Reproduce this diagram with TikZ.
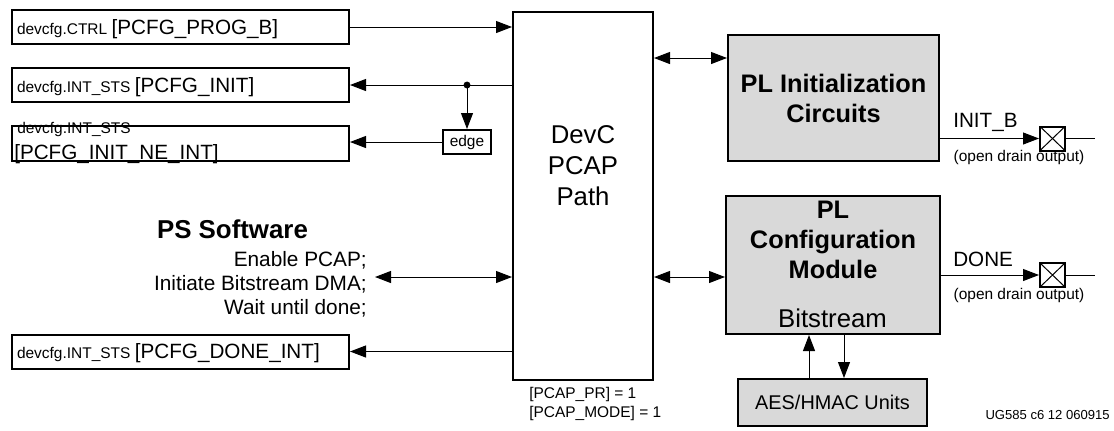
\documentclass[tikz,border=0pt]{standalone}
\usepackage{fontspec}
\setmainfont{Liberation Sans}
\usetikzlibrary{arrows.meta,calc}

\newcommand{\smallfnt}{\fontsize{11.6}{14.25}\selectfont}
\newcommand{\midfnt}{\fontsize{15.5}{18}\selectfont}
\newcommand{\bigfnt}{\fontsize{19.3}{23.25}\selectfont}
\newcommand{\boldfnt}{\fontsize{19}{22.5}\selectfont\bfseries}

\begin{document}
\begin{tikzpicture}[x=0.75pt,y=-0.75pt,
  regbox/.style={draw,line width=1.5pt,minimum width=252.75pt,minimum height=25.5pt,
    text width=245.25pt,inner xsep=3.75pt,align=left,text depth=0pt},
  blk/.style={draw,line width=1.5pt,fill=gray!30},
  wire/.style={line width=0.75pt},
  arr/.style={wire,-{Triangle[length=12pt,width=9pt]}},
  darr/.style={wire,{Triangle[length=12pt,width=9pt]}-{Triangle[length=12pt,width=9pt]}},
  padbox/.style={draw,line width=1.5pt,minimum width=18.75pt,minimum height=18pt,inner sep=0pt,
    path picture={\draw[wire] (path picture bounding box.north west) -- (path picture bounding box.south east)
      (path picture bounding box.south west) -- (path picture bounding box.north east);}}]
  \useasboundingbox (0,0) rectangle (1114,430);

  \node[regbox] (progb) at (180.5,27) {\smallfnt devcfg.CTRL \midfnt [PCFG\_PROG\_B]};
  \node[regbox] (initsts) at (180.5,85) {\smallfnt devcfg.INT\_STS \midfnt [PCFG\_INIT]};
  \node[anchor=base west,inner sep=0pt] (neinttop) at (17,133) {\smallfnt devcfg.INT\_STS};
  \node[anchor=base west,inner sep=0pt] (neintbot) at (14,159) {\midfnt [PCFG\_INIT\_NE\_INT]};
  \node[regbox,minimum height=26.25pt] (neint) at (180.5,143.5) {};
  \node[regbox] (doneint) at (180.5,351.5) {\smallfnt devcfg.INT\_STS \midfnt [PCFG\_DONE\_INT]};

  \node[draw,line width=1.5pt,minimum width=105pt,minimum height=276pt] (devc) at (583,196) {};
  \node[align=center,font=\bigfnt] (devclbl) at (583,166) {DevC\\PCAP\\Path};
  \node[anchor=north west,align=left,inner sep=0pt,font=\smallfnt] (pcapbits) at (529,387) {[PCAP\_PR] = 1\\{[}PCAP\_MODE] = 1};

  \node[draw,line width=1.5pt,minimum width=36pt,minimum height=18pt,inner sep=0pt] (edge) at (467,142) {\smallfnt edge};

  \node[anchor=base] (pssw) at (232.5,238) {\fontsize{19.4}{23}\selectfont\bfseries PS Software};
  \node[anchor=north east,align=right,inner sep=0pt,font=\fontsize{15.6}{18}\selectfont] (swtxt) at (367,251) {Enable PCAP;\\Initiate Bitstream DMA;\\Wait until done;};
  \coordinate (swend) at (375,277);

  \node[blk,minimum width=158.25pt,minimum height=94.5pt,align=center,font=\boldfnt] (plinit) at (833.5,98) {PL Initialization\\Circuits};
  \node[blk,minimum width=160.5pt,minimum height=103.5pt] (plcfg) at (833,265) {};
  \node[align=center,font=\boldfnt] (plcfglbl) at (833,240) {PL\\Configuration\\Module};
  \node[anchor=base] (bitlbl) at (832.5,327) {\bigfnt Bitstream};
  \node[blk,minimum width=141.75pt,minimum height=35.25pt] (aes) at (832.5,402.5) {\fontsize{14.9}{18}\selectfont AES/HMAC Units};

  \node[padbox] (initpad) at (1052.5,138.5) {};
  \node[padbox] (donepad) at (1052.5,275) {};
  \coordinate (initout) at (1095,138.5);
  \coordinate (doneout) at (1095,275);
  \node[anchor=base west,inner sep=0pt] (initblbl) at (953,127) {\midfnt INIT\_B};
  \node (initnote) at (1019,157) {\smallfnt (open drain output)};
  \node[anchor=base west,inner sep=0pt] (donelbl) at (953,266) {\midfnt DONE};
  \node (donenote) at (1019,295) {\smallfnt (open drain output)};

  \node[anchor=base east,inner sep=0pt] (ugref) at (1110,419) {\fontsize{9.8}{12}\selectfont UG585 c6 12 060915};

  \draw[arr] (progb.east) -- (progb.east -| devc.west);
  \draw[arr] (initsts.east -| devc.west) -- (initsts.east);
  \fill (edge |- initsts.east) circle (2.6pt);
  \draw[arr] (edge |- initsts.east) -- (edge.north);
  \draw[arr] (edge.west) -- (edge.west -| neint.east);
  \draw[arr] (doneint.east -| devc.west) -- (doneint.east);
  \draw[darr] (swend) -- (swend -| devc.west);

  \coordinate (plinitin) at ($(plinit.west)+(0,-40)$);
  \coordinate (plcfgin) at ($(plcfg.west)+(0,12)$);
  \draw[darr] (devc.east |- plinitin) -- (plinitin);
  \draw[darr] (devc.east |- plcfgin) -- (plcfgin);

  \coordinate (upfoot) at ($(aes.north)+(-23.5,0)$);
  \coordinate (dnfoot) at ($(aes.north)+(11.5,0)$);
  \draw[arr] (upfoot) -- (upfoot |- plcfg.south);
  \draw[arr] (dnfoot |- plcfg.south) -- (dnfoot);

  \draw[arr] (plinit.east |- initpad) -- (initpad.west);
  \draw[wire] (initpad.east) -- (initout);
  \draw[arr] (plcfg.east |- donepad) -- (donepad.west);
  \draw[wire] (donepad.east) -- (doneout);
\end{tikzpicture}
\end{document}
